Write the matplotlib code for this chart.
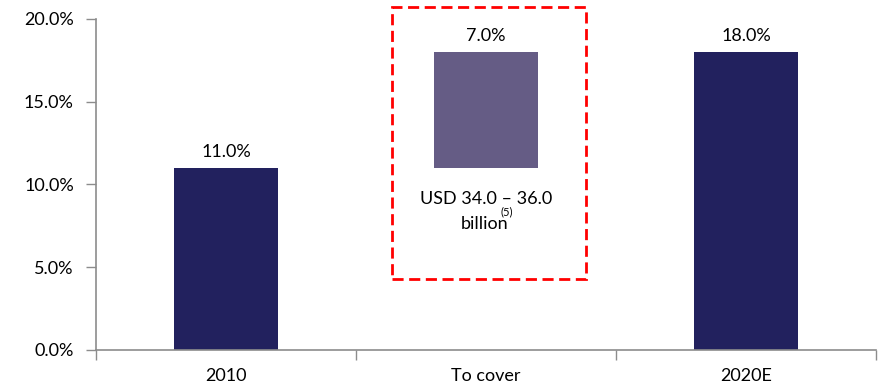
import matplotlib
matplotlib.use("Agg")
import matplotlib.pyplot as plt
from matplotlib.patches import Rectangle

plt.rcParams['font.family'] = ['Lato', 'DejaVu Sans']

categories = ["2010", "To cover", "2020E"]
values = [11.0, 7.0, 18.0]
bases = [0.0, 11.0, 0.0]
bar_colors = ["#22215E", "#655C85", "#22215E"]
y_ticks = [0, 5, 10, 15, 20]
note_main = "USD 34.0 – 36.0"
note_second = "billion"
note_sup = "(5)"

FS = 13
TXT = "#000000"

fig = plt.figure(figsize=(8.81, 3.89), dpi=100)
ax = fig.add_axes([0.109, 0.1003, 0.8853, 0.8509])

x = list(range(len(categories)))
ax.bar(x, values, bottom=bases, width=0.4, color=bar_colors, zorder=2)

for xi, v, b in zip(x, values, bases):
    ax.text(xi, b + v + 0.5, f"{v:.1f}%", ha="center", va="bottom", fontsize=FS, color=TXT)

ax.set_xlim(-0.5, 2.5)
ax.set_ylim(0, 20)
ax.set_yticks(y_ticks)
ax.set_yticklabels([f"{t:.1f}%" for t in y_ticks], color=TXT)

# category labels centred, tick marks on category boundaries
ax.set_xticks([0.5 + i for i in range(-1, len(categories))], minor=False)
ax.set_xticklabels([])
ax.set_xticks(x, minor=True)
ax.set_xticklabels(categories, minor=True, color=TXT)
ax.tick_params(axis="x", which="minor", length=0, pad=13, labelsize=FS)
ax.tick_params(axis="x", which="major", length=7, width=1, color="#8C8C8C", direction="out")
ax.tick_params(axis="y", length=7, width=1, color="#8C8C8C", labelsize=FS, pad=9)

for side in ["top", "right"]:
    ax.spines[side].set_visible(False)
for side in ["left", "bottom"]:
    ax.spines[side].set_color("#8C8C8C")
    ax.spines[side].set_linewidth(1.2)
ax.spines["bottom"].set_zorder(3)

# dashed frame around the gap to cover
box = Rectangle((0.638, 4.3), 1.385 - 0.638, 20.7 - 4.3, fill=False,
                edgecolor="#FF0000", linestyle=(0, (4, 2)), linewidth=2,
                clip_on=False, zorder=4)
ax.add_patch(box)

ax.text(1.0, 9.1, note_main, ha="center", va="center", fontsize=FS, color=TXT)
ax.text(0.995, 7.6, note_second, ha="center", va="center", fontsize=FS, color=TXT)
ax.text(1.08, 8.35, note_sup, ha="center", va="center", fontsize=8, color=TXT)

fig.savefig("out.png", dpi=100)
